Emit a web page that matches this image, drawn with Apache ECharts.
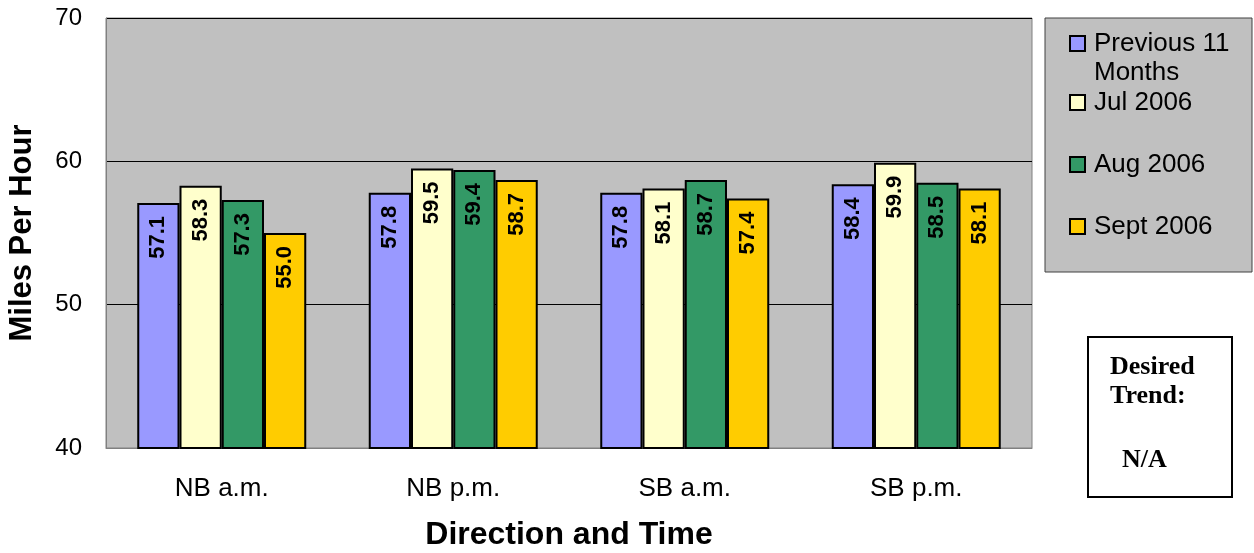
<!DOCTYPE html>
<html>
<head>
<meta charset="utf-8">
<script src="https://cdn.jsdelivr.net/npm/echarts@6/dist/echarts.min.js"></script>
<style>
html,body{margin:0;padding:0;background:#fff;}
#main{width:1254px;height:553px;}
</style>
</head>
<body>
<div id="main"></div>
<script>
var categories = ['NB a.m.', 'NB p.m.', 'SB a.m.', 'SB p.m.'];
var seriesNames = ['Previous 11 Months', 'Jul 2006', 'Aug 2006', 'Sept 2006'];
var prev11 = [57.1, 57.8, 57.8, 58.4];
var jul2006 = [58.3, 59.5, 58.1, 59.9];
var aug2006 = [57.3, 59.4, 58.7, 58.5];
var sept2006 = [55.0, 58.7, 57.4, 58.1];
var yTicks = [40, 50, 60, 70];
var seriesColors = ['#9999ff', '#ffffcc', '#339966', '#ffcc00'];
var legendTops = [0, 88, 150, 212];

var values = [prev11, jul2006, aug2006, sept2006];
var FONT = '"Liberation Sans", Arial, sans-serif';

var series = seriesNames.map(function (name, i) {
  return {
    name: name,
    type: 'bar',
    data: values[i],
    barGap: '0%',
    barCategoryGap: '27%',
    itemStyle: { color: seriesColors[i], borderColor: '#000', borderWidth: 2 },
    label: {
      show: true,
      position: 'insideTop',
      rotate: 90,
      align: 'right',
      verticalAlign: 'middle',
      distance: 13,
      fontFamily: FONT,
      fontWeight: 'bold',
      fontSize: 22,
      color: '#000',
      formatter: function (p) { return p.value.toFixed(1); }
    }
  };
});

var legends = seriesNames.map(function (name, i) {
  return {
    data: [{ name: name, icon: 'rect' }],
    left: 1069,
    top: legendTops[i],
    padding: 0,
    itemWidth: 15,
    itemHeight: 15,
    z: 10,
    selectedMode: false,
    formatter: function (n) { return n === 'Previous 11 Months' ? ' \nPrevious 11\nMonths' : n; },
    textStyle: {
      fontFamily: FONT,
      fontSize: 26,
      lineHeight: 29,
      color: '#000',
      padding: [0, 0, 0, 4]
    }
  };
});

var chart = echarts.init(document.getElementById('main'), null, { renderer: 'canvas' });
chart.setOption({
  backgroundColor: '#ffffff',
  animation: false,
  grid: {
    left: 106, right: 222, top: 18, bottom: 105,
    outerBoundsMode: 'none',
    containLabel: false,
    show: true, backgroundColor: '#c0c0c0', borderColor: '#808080', borderWidth: 1
  },
  legend: legends,
  xAxis: {
    type: 'category',
    data: categories,
    axisLine: { show: true, lineStyle: { color: '#808080', width: 1 } },
    axisTick: { show: false },
    axisLabel: { fontFamily: FONT, fontSize: 26, color: '#000', margin: 28 },
    name: 'Direction and Time',
    nameLocation: 'middle',
    nameGap: 71,
    nameTextStyle: { fontFamily: FONT, fontSize: 32, fontWeight: 'bold', color: '#000' }
  },
  yAxis: {
    type: 'value',
    min: 40, max: 70, interval: 10,
    axisLine: { show: true, lineStyle: { color: '#808080', width: 1 } },
    axisTick: { show: false },
    axisLabel: {
      fontFamily: FONT, fontSize: 24, color: '#000', margin: 24,
      formatter: function (v) { return yTicks.indexOf(v) >= 0 ? String(v) : ''; }
    },
    splitLine: { show: true, lineStyle: { color: '#000', width: 1 } },
    name: 'Miles Per Hour',
    nameLocation: 'middle',
    nameGap: 68,
    nameTextStyle: { fontFamily: FONT, fontSize: 31, fontWeight: 'bold', color: '#000' }
  },
  series: series,
  graphic: [
    {
      type: 'rect', z: 1,
      shape: { x: 1045, y: 18, width: 207, height: 254 },
      style: { fill: '#c0c0c0', stroke: '#404040', lineWidth: 1 }
    },
    {
      type: 'rect', z: 1,
      shape: { x: 1088, y: 337, width: 144, height: 160 },
      style: { fill: '#ffffff', stroke: '#000', lineWidth: 2 }
    },
    {
      type: 'text', z: 2, x: 1110, y: 367,
      style: { text: 'Desired', font: 'bold 26px "Liberation Serif", "Times New Roman", serif', fill: '#000', verticalAlign: 'middle' }
    },
    {
      type: 'text', z: 2, x: 1110, y: 396,
      style: { text: 'Trend:', font: 'bold 26px "Liberation Serif", "Times New Roman", serif', fill: '#000', verticalAlign: 'middle' }
    },
    {
      type: 'text', z: 2, x: 1122, y: 460,
      style: { text: 'N/A', font: 'bold 26px "Liberation Serif", "Times New Roman", serif', fill: '#000', verticalAlign: 'middle' }
    }
  ]
});
</script>
</body>
</html>
